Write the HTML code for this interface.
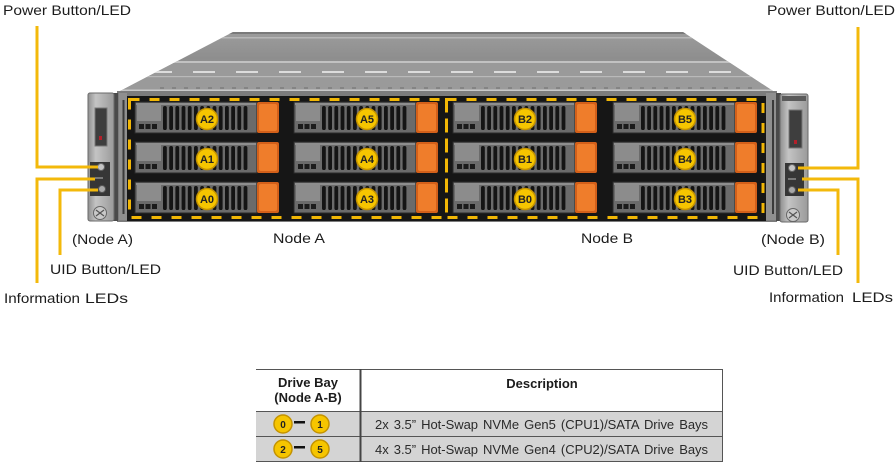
<!DOCTYPE html>
<html>
<head>
<meta charset="utf-8">
<style>
html,body{margin:0;padding:0;background:#fff;}
svg{display:block;}
text{font-family:"Liberation Sans",Arial,sans-serif;}
</style>
</head>
<body>
<svg width="896" height="474" viewBox="0 0 896 474" xmlns="http://www.w3.org/2000/svg">
<defs>
  <linearGradient id="topg" x1="0" y1="0" x2="0" y2="1">
    <stop offset="0" stop-color="#9c9c9c"/>
    <stop offset="0.45" stop-color="#8e8e8e"/>
    <stop offset="1" stop-color="#a2a2a2"/>
  </linearGradient>
  <linearGradient id="earg" x1="0" y1="0" x2="1" y2="0">
    <stop offset="0" stop-color="#8f8f8f"/>
    <stop offset="0.3" stop-color="#c4c4c4"/>
    <stop offset="1" stop-color="#9a9a9a"/>
  </linearGradient>
  <clipPath id="topclip"><polygon points="233,32 683,32 773,91 120,91"/></clipPath>
  <g id="drv">
    <rect x="0" y="0" width="122" height="31" fill="#6b6b6b" stroke="#2b2b2b" stroke-width="1"/>
    <rect x="1" y="1" width="120" height="2" fill="#8e8e8e"/>
    <rect x="2" y="3" width="24" height="16" fill="#8c8c8c"/>
    <rect x="4" y="22" width="5" height="5" fill="#1b1b1b"/>
    <rect x="10.5" y="22" width="5" height="5" fill="#1b1b1b"/>
    <rect x="17" y="22" width="5" height="5" fill="#1b1b1b"/>
    <g fill="#141414">
      <rect x="28" y="4" width="3.8" height="24" rx="1.8"/>
      <rect x="34.2" y="4" width="3.8" height="24" rx="1.8"/>
      <rect x="40.4" y="4" width="3.8" height="24" rx="1.8"/>
      <rect x="46.6" y="4" width="3.8" height="24" rx="1.8"/>
      <rect x="52.8" y="4" width="3.8" height="24" rx="1.8"/>
      <rect x="59" y="4" width="3.8" height="24" rx="1.8"/>
      <rect x="65.2" y="4" width="3.8" height="24" rx="1.8"/>
      <rect x="71.4" y="4" width="3.8" height="24" rx="1.8"/>
      <rect x="77.6" y="4" width="3.8" height="24" rx="1.8"/>
      <rect x="83.8" y="4" width="3.8" height="24" rx="1.8"/>
      <rect x="90" y="4" width="3.8" height="24" rx="1.8"/>
      <rect x="96.2" y="4" width="3.8" height="24" rx="1.8"/>
      <rect x="102.4" y="4" width="3.8" height="24" rx="1.8"/>
      <rect x="108.6" y="4" width="3.8" height="24" rx="1.8"/>
    </g>
    <rect x="122" y="0" width="22" height="31" rx="2" fill="#d3601a"/>
    <rect x="124" y="2" width="18" height="27" rx="2" fill="#ef7d2b"/>
  </g>
</defs>

<!-- chassis top -->
<polygon points="233,32 683,32 773,91 120,91" fill="url(#topg)"/>
<g clip-path="url(#topclip)">
  <rect x="100" y="32" width="700" height="2" fill="#7a7a7a"/>
  <rect x="100" y="37" width="700" height="1.5" fill="#b8b8b8"/>
  <rect x="100" y="61" width="700" height="2" fill="#c2c2c2"/>
  <rect x="100" y="63" width="700" height="28" fill="#9a9a9a"/>
  <line x1="150" y1="72" x2="770" y2="72" stroke="#dcdcdc" stroke-width="2" stroke-dasharray="22 21"/>
  <rect x="100" y="76" width="700" height="1.2" fill="#b9b9b9"/>
  <line x1="160" y1="88" x2="760" y2="88" stroke="#6d6d6d" stroke-width="1" stroke-dasharray="4 8"/>
  <rect x="100" y="89.5" width="700" height="1.5" fill="#c8c8c8"/>
</g>

<!-- front face -->
<rect x="117" y="91" width="660" height="131" fill="#7c7c7c"/>
<rect x="119" y="93" width="8" height="127" fill="#8f8f8f"/>
<rect x="122.5" y="100" width="2" height="114" fill="#3a3a3a"/>
<rect x="766" y="93" width="10" height="127" fill="#8f8f8f"/>
<rect x="772" y="100" width="2" height="114" fill="#3a3a3a"/>
<rect x="127" y="96" width="639" height="125" fill="#161616"/>

<!-- drives -->
<use href="#drv" x="135" y="102"/>
<use href="#drv" x="135" y="142"/>
<use href="#drv" x="135" y="182"/>
<use href="#drv" x="294" y="102"/>
<use href="#drv" x="294" y="142"/>
<use href="#drv" x="294" y="182"/>
<use href="#drv" x="453" y="102"/>
<use href="#drv" x="453" y="142"/>
<use href="#drv" x="453" y="182"/>
<use href="#drv" x="613" y="102"/>
<use href="#drv" x="613" y="142"/>
<use href="#drv" x="613" y="182"/>

<!-- dashed node boxes -->
<g fill="none" stroke="#f2b705" stroke-width="3" stroke-dasharray="10 10">
  <rect x="129.5" y="99.5" width="317" height="118"/>
  <rect x="446.5" y="99.5" width="316.5" height="118"/>
</g>

<!-- drive labels -->
<g fill="#f6c500" stroke="#c49300" stroke-width="1.5">
  <circle cx="207" cy="119" r="10.5"/><circle cx="207" cy="159" r="10.5"/><circle cx="207" cy="199" r="10.5"/>
  <circle cx="367" cy="119" r="10.5"/><circle cx="367" cy="159" r="10.5"/><circle cx="367" cy="199" r="10.5"/>
  <circle cx="525" cy="119" r="10.5"/><circle cx="525" cy="159" r="10.5"/><circle cx="525" cy="199" r="10.5"/>
  <circle cx="685" cy="119" r="10.5"/><circle cx="685" cy="159" r="10.5"/><circle cx="685" cy="199" r="10.5"/>
</g>
<g font-size="11" font-weight="bold" fill="#222" text-anchor="middle">
  <text x="207" y="123">A2</text><text x="207" y="163">A1</text><text x="207" y="203">A0</text>
  <text x="367" y="123">A5</text><text x="367" y="163">A4</text><text x="367" y="203">A3</text>
  <text x="525" y="123">B2</text><text x="525" y="163">B1</text><text x="525" y="203">B0</text>
  <text x="685" y="123">B5</text><text x="685" y="163">B4</text><text x="685" y="203">B3</text>
</g>

<!-- left ear -->
<rect x="113" y="93" width="5" height="128" fill="#4a4a4a"/>
<rect x="88" y="93" width="26" height="128" rx="2" fill="url(#earg)" stroke="#6a6a6a" stroke-width="1"/>
<rect x="95" y="108" width="12" height="38" fill="#3e3e3e" stroke="#777" stroke-width="1"/>
<rect x="99" y="136" width="3" height="4" fill="#b3202a"/>
<rect x="90" y="162" width="20" height="34" fill="#363636"/>
<circle cx="101" cy="167" r="3.5" fill="#c4c4c4" stroke="#666" stroke-width="1"/>
<circle cx="102" cy="189" r="3.5" fill="#a8a8a8" stroke="#555" stroke-width="1"/>
<rect x="95" y="177" width="8" height="2" fill="#777"/>
<circle cx="100" cy="213" r="6.5" fill="#c9c9c9" stroke="#666" stroke-width="1"/>
<line x1="96" y1="210" x2="104" y2="216" stroke="#555" stroke-width="1.2"/>
<line x1="96" y1="216" x2="104" y2="210" stroke="#555" stroke-width="1.2"/>

<!-- right ear -->
<rect x="776" y="93" width="5" height="128" fill="#4a4a4a"/>
<rect x="780" y="94" width="28" height="128" rx="2" fill="url(#earg)" stroke="#6a6a6a" stroke-width="1"/>
<rect x="782" y="96" width="24" height="5" fill="#5a5a5a"/>
<rect x="789" y="110" width="13" height="38" fill="#3e3e3e" stroke="#777" stroke-width="1"/>
<rect x="794" y="140" width="3" height="4" fill="#b3202a"/>
<rect x="785" y="163" width="19" height="33" fill="#363636"/>
<circle cx="792" cy="168" r="3.5" fill="#c4c4c4" stroke="#666" stroke-width="1"/>
<circle cx="792" cy="190" r="3.5" fill="#a8a8a8" stroke="#555" stroke-width="1"/>
<rect x="788" y="178" width="8" height="2" fill="#777"/>
<circle cx="793" cy="215" r="6.5" fill="#c9c9c9" stroke="#666" stroke-width="1"/>
<line x1="789" y1="212" x2="797" y2="218" stroke="#555" stroke-width="1.2"/>
<line x1="789" y1="218" x2="797" y2="212" stroke="#555" stroke-width="1.2"/>

<!-- callout lines -->
<g fill="none" stroke="#f3b90b" stroke-width="3">
  <polyline points="37,26 37,167 98,167"/>
  <polyline points="37,283 37,179 95,179"/>
  <polyline points="60,255 60,190 98,190"/>
  <polyline points="858,27 858,168 798,168"/>
  <polyline points="858,283 858,179 802,179"/>
  <polyline points="838,255 838,190 798,190"/>
</g>

<!-- labels -->
<g font-size="14" fill="#1c1c1c">
  <text x="3" y="15" textLength="128" lengthAdjust="spacingAndGlyphs">Power Button/LED</text>
  <text x="767" y="15" textLength="128" lengthAdjust="spacingAndGlyphs">Power Button/LED</text>
  <text x="72" y="244" textLength="61" lengthAdjust="spacingAndGlyphs">(Node A)</text>
  <text x="273" y="243" textLength="52" lengthAdjust="spacingAndGlyphs">Node A</text>
  <text x="581" y="243" textLength="52" lengthAdjust="spacingAndGlyphs">Node B</text>
  <text x="761" y="244" textLength="64" lengthAdjust="spacingAndGlyphs">(Node B)</text>
  <text x="50" y="274" textLength="111" lengthAdjust="spacingAndGlyphs">UID Button/LED</text>
  <text x="733" y="275" textLength="110" lengthAdjust="spacingAndGlyphs">UID Button/LED</text>
  <text x="4" y="303" textLength="76" lengthAdjust="spacingAndGlyphs">Information</text>
  <text x="85" y="303" textLength="43" lengthAdjust="spacingAndGlyphs">LEDs</text>
  <text x="769" y="302" textLength="75" lengthAdjust="spacingAndGlyphs">Information</text>
  <text x="852" y="302" textLength="41" lengthAdjust="spacingAndGlyphs">LEDs</text>
</g>

<!-- table -->
<rect x="256" y="411" width="467" height="50" fill="#d4d4d4"/>
<g stroke="#555" stroke-width="1">
  <line x1="256" y1="369.5" x2="723" y2="369.5"/>
  <line x1="256" y1="411.5" x2="723" y2="411.5"/>
  <line x1="256" y1="436.5" x2="723" y2="436.5"/>
  <line x1="256" y1="461.5" x2="723" y2="461.5"/>
  <line x1="722.5" y1="369" x2="722.5" y2="462"/>
</g>
<line x1="360.5" y1="369" x2="360.5" y2="462" stroke="#444" stroke-width="2"/>
<g font-size="13" font-weight="bold" fill="#1c1c1c" text-anchor="middle">
  <text x="308" y="387">Drive Bay</text>
  <text x="308" y="402">(Node A-B)</text>
  <text x="542" y="388">Description</text>
</g>
<g font-size="13" fill="#2a2a2a" style="word-spacing:1.5px">
  <text x="375" y="429" textLength="333" lengthAdjust="spacing">2x 3.5&#8221; Hot-Swap NVMe Gen5 (CPU1)/SATA Drive Bays</text>
  <text x="375" y="454" textLength="333" lengthAdjust="spacing">4x 3.5&#8221; Hot-Swap NVMe Gen4 (CPU2)/SATA Drive Bays</text>
</g>
<g fill="#f6c500" stroke="#c49300" stroke-width="1.5">
  <circle cx="283" cy="424" r="9"/><circle cx="320" cy="424" r="9"/>
  <circle cx="283" cy="449" r="9"/><circle cx="320" cy="449" r="9"/>
</g>
<rect x="294" y="421" width="11" height="2.5" fill="#111"/>
<rect x="294" y="446" width="11" height="2.5" fill="#111"/>
<g font-size="10" font-weight="bold" fill="#222" text-anchor="middle">
  <text x="283" y="428">0</text><text x="320" y="428">1</text>
  <text x="283" y="453">2</text><text x="320" y="453">5</text>
</g>
</svg>
</body>
</html>
